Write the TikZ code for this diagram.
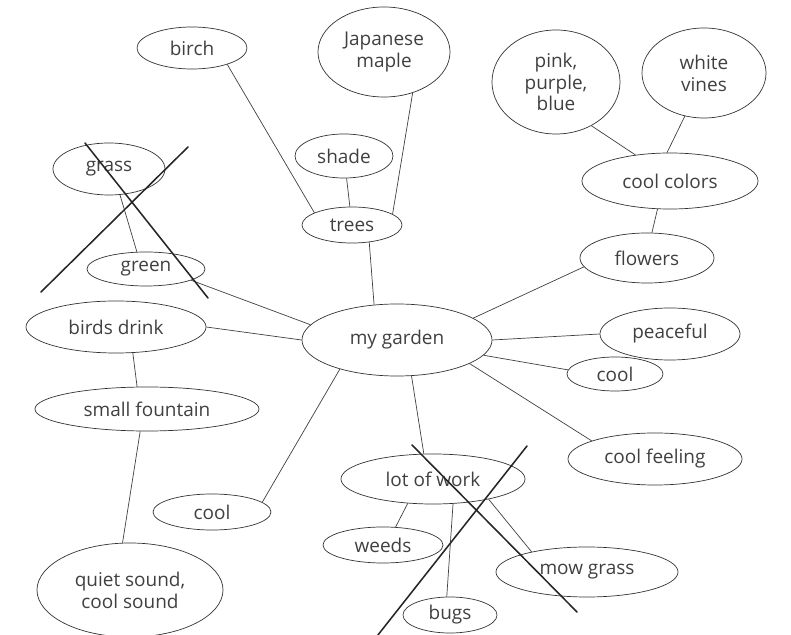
\documentclass[tikz,border=0pt]{standalone}
\usepackage{fontspec}
\setmainfont{Open Sans}
\usetikzlibrary{shapes.geometric}

\begin{document}
\begin{tikzpicture}[
    x=0.025cm, y=-0.025cm,
    bubble/.style={draw, ellipse, inner sep=0pt, align=center, line width=0.5pt,
                   color=black!80, text=black!75, font=\fontsize{13.5}{15.5}\selectfont},
    link/.style={draw, line width=0.5pt, color=black!75},
    strike/.style={draw, line width=1.1pt, color=black!85, line cap=round},
]
\useasboundingbox (0,0) rectangle (791,635);

% --- Centre ---
\node[bubble, minimum width=4.75cm, minimum height=1.8cm] (garden) at (397,340) {my garden};

% --- Trees branch ---
\node[bubble, minimum width=2.5cm, minimum height=0.9cm] (trees) at (352,225) {trees};
\node[bubble, minimum width=2.45cm, minimum height=1.1cm] (shade) at (344,156) {shade};
\node[bubble, minimum width=2.75cm, minimum height=1.05cm] (birch) at (192,48) {birch};
\node[bubble, minimum width=3.3cm, minimum height=2.25cm] (maple) at (384,52) {Japanese\\maple};

% --- Grass (crossed out) ---
\node[bubble, minimum width=2.95cm, minimum height=0.85cm] (green) at (146,269) {green};
\node[bubble, minimum width=2.8cm, minimum height=1.3cm] (grass) at (109,169) {grass};

% --- Fountain branch ---
\node[bubble, minimum width=4.5cm, minimum height=1.3cm] (birds) at (116,327) {birds drink};
\node[bubble, minimum width=5.6cm, minimum height=1.1cm] (fountain) at (147,409) {small fountain};
\node[bubble, minimum width=4.65cm, minimum height=2.35cm] (quiet) at (130,590) {quiet sound,\\cool sound};
\node[bubble, minimum width=2.95cm, minimum height=0.9cm] (coolL) at (212,512) {cool};

% --- Flowers branch ---
\node[bubble, minimum width=3.35cm, minimum height=1.25cm] (flowers) at (647,258) {flowers};
\node[bubble, minimum width=4.4cm, minimum height=1.4cm] (colors) at (670,181) {cool colors};
\node[bubble, minimum width=3.2cm, minimum height=2.6cm] (pink) at (556,82) {pink,\\purple,\\blue};
\node[bubble, minimum width=3.1cm, minimum height=2.25cm] (vines) at (704,73) {white\\vines};

% --- Feelings ---
\node[bubble, minimum width=3.5cm, minimum height=1.3cm] (peace) at (670,334) {peaceful};
\node[bubble, minimum width=2.4cm, minimum height=0.85cm] (coolR) at (615,374) {cool};
\node[bubble, minimum width=4.35cm, minimum height=1.3cm] (feeling) at (655,459) {cool feeling};

% --- Work (crossed out) ---
\node[bubble, minimum width=4.6cm, minimum height=1.25cm] (work) at (433,479) {lot of work};
\node[bubble, minimum width=3.0cm, minimum height=0.9cm] (weeds) at (383,545) {weeds};
\node[bubble, minimum width=4.55cm, minimum height=1.25cm] (mow) at (587,572) {mow grass};
\node[bubble, minimum width=2.35cm, minimum height=0.9cm] (bugs) at (450,615) {bugs};

% --- Links ---
\draw[link] (birch.-25) -- (trees.162);
\draw[link] (maple.-55) -- (trees.15);
\draw[link] (shade) -- (trees);
\draw[link] (trees.-45) -- (garden.123);
\draw[link] (grass.-67) -- (green.118);
\draw[link] (green.-14) -- (garden.170);
\draw[link] (birds.east) -- (garden.west);
\draw[link] (birds.-57) -- (fountain.114);
\draw[link] (fountain.-107) -- (quiet.99);
\draw[link] (coolL.11) -- (garden.-153);
\draw[link] (pink.-51) -- (colors.143);
\draw[link] (vines.-114) -- (colors.96);
\draw[link] (colors.-114) -- (flowers.79);
\draw[link] (flowers.-172) -- (garden.16);
\draw[link] (peace.west) -- (garden.east);
\draw[link] (coolR.175) -- (garden.-10);
\draw[link] (feeling.164) -- (garden.-18);
\draw[link] (garden.-68) -- (work.110);
\draw[link] (work.-136) -- (weeds.55);
\draw[link] (work.-51) -- (bugs.100);
\draw[link] (work.-20) -- (mow.160);

% Cross-out strokes
\coordinate (g1) at (85,143);  \coordinate (g2) at (208,298);
\coordinate (g3) at (188,147); \coordinate (g4) at (41,292);
\coordinate (w1) at (412,445); \coordinate (w2) at (577,612);
\coordinate (w3) at (527,446); \coordinate (w4) at (374,640);
\draw[strike] (g1) -- (g2);
\draw[strike] (g3) -- (g4);
\draw[strike] (w1) -- (w2);
\draw[strike] (w3) -- (w4);
\end{tikzpicture}
\end{document}
